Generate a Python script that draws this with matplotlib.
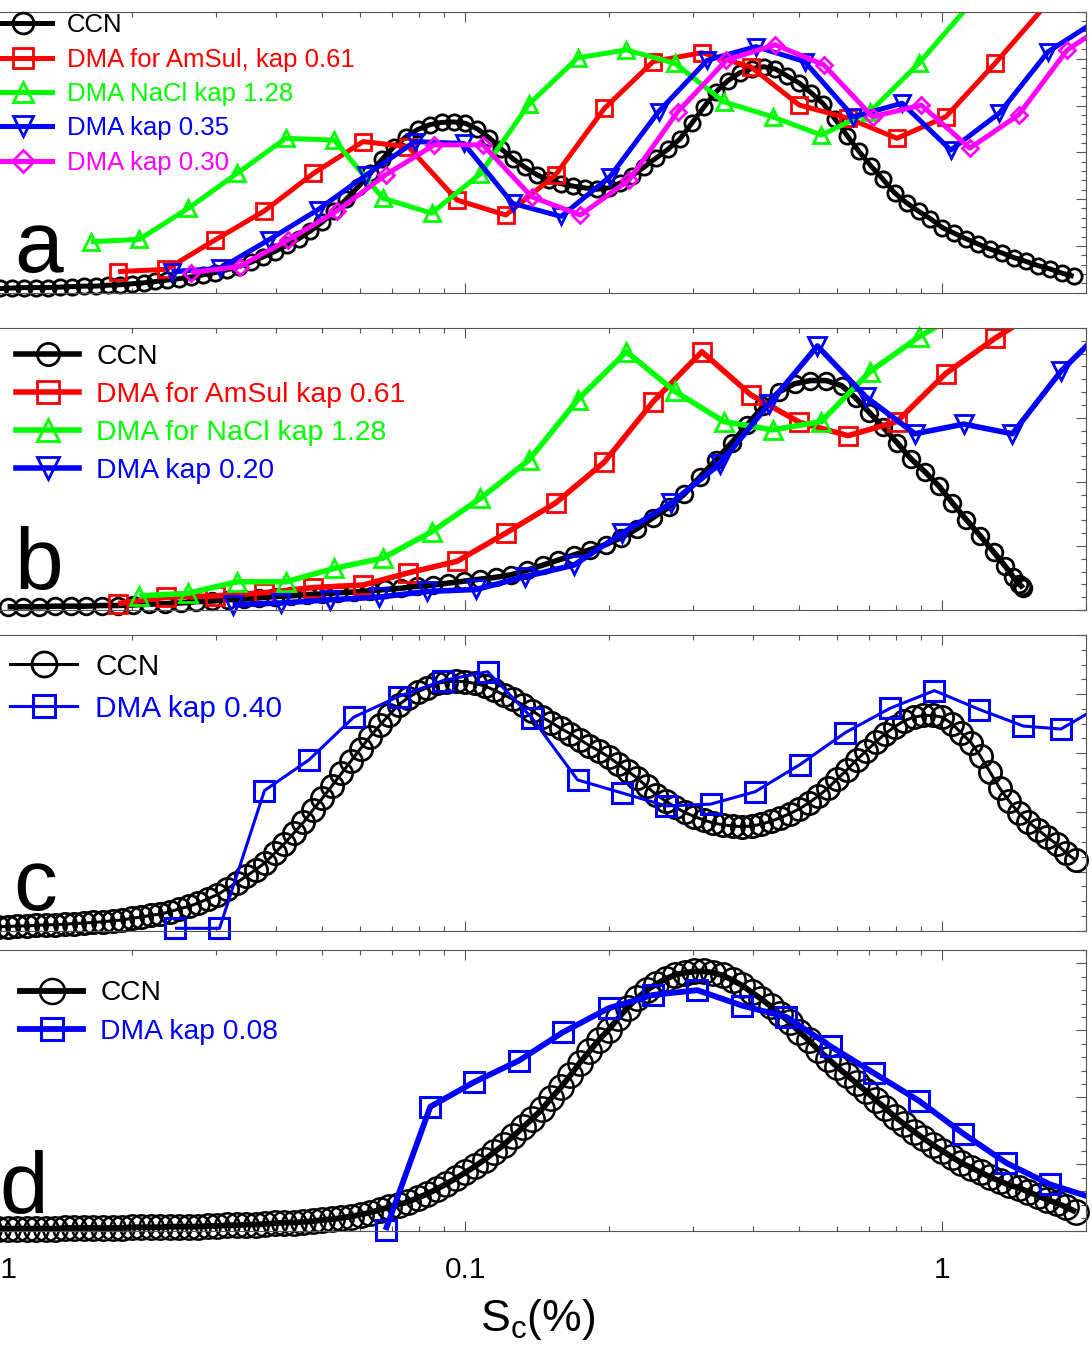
import numpy as np
import matplotlib
matplotlib.use('Agg')
import matplotlib.pyplot as plt
from matplotlib.lines import Line2D
from matplotlib.ticker import MultipleLocator, NullFormatter

plt.rcParams.update({'font.family': 'Liberation Sans',
                     'mathtext.fontset': 'custom',
                     'mathtext.rm': 'Liberation Sans',
                     'mathtext.it': 'Liberation Sans:italic'})

# -- data: Sc (%) and normalised number concentration --------------------------
# CCN curves are kept as log10(Sc)
ccn_a_log_sc = [-2.000, -1.975, -1.950, -1.925, -1.900, -1.875, -1.850, -1.825, -1.800, -1.775,
                -1.750, -1.725, -1.700, -1.675, -1.650, -1.625, -1.600, -1.575, -1.550, -1.525,
                -1.500, -1.475, -1.450, -1.425, -1.400, -1.375, -1.350, -1.325, -1.300, -1.275,
                -1.250, -1.225, -1.200, -1.175, -1.150, -1.125, -1.100, -1.075, -1.050, -1.025,
                -1.000, -0.975, -0.950, -0.925, -0.900, -0.875, -0.850, -0.825, -0.800, -0.775,
                -0.750, -0.725, -0.700, -0.675, -0.650, -0.625, -0.600, -0.575, -0.550, -0.525,
                -0.500, -0.475, -0.450, -0.425, -0.400, -0.375, -0.350, -0.325, -0.300, -0.275,
                -0.250, -0.225, -0.200, -0.175, -0.150, -0.125, -0.100, -0.075, -0.050, -0.025,
                0.000, 0.025, 0.050, 0.075, 0.100, 0.125, 0.150, 0.175, 0.200, 0.225,
                0.250, 0.275]
ccn_a_n = [0.09, 0.09, 0.10, 0.11, 0.11, 0.11, 0.12, 0.13, 0.14, 0.14,
           0.16, 0.17, 0.19, 0.21, 0.24, 0.27, 0.30, 0.34, 0.38, 0.43,
           0.49, 0.56, 0.65, 0.76, 0.88, 1.01, 1.15, 1.32, 1.51, 1.74,
           2.00, 2.26, 2.55, 2.85, 3.12, 3.33, 3.49, 3.59, 3.64, 3.65,
           3.62, 3.50, 3.31, 3.07, 2.86, 2.68, 2.52, 2.40, 2.33, 2.28,
           2.24, 2.21, 2.24, 2.35, 2.50, 2.69, 2.88, 3.07, 3.29, 3.63,
           3.97, 4.29, 4.53, 4.70, 4.79, 4.83, 4.78, 4.63, 4.48, 4.27,
           4.04, 3.71, 3.36, 3.02, 2.71, 2.43, 2.13, 1.92, 1.74, 1.58,
           1.39, 1.27, 1.15, 1.04, 0.93, 0.85, 0.75, 0.67, 0.58, 0.51,
           0.42, 0.35]

red_a_sc = [0.0187, 0.0236, 0.0299, 0.0379, 0.0480, 0.0610, 0.0759, 0.0960, 0.1215, 0.1545,
            0.1956, 0.2474, 0.3131, 0.3962, 0.5012, 0.634, 0.803, 1.016, 1.289, 1.632]
red_a_n = [0.45, 0.50, 1.13, 1.75, 2.55, 3.23, 3.12, 1.98, 1.66, 2.52,
           3.94, 4.94, 5.13, 4.83, 4.01, 3.73, 3.30, 3.76, 4.90, 6.10]
green_a_sc = [0.0164, 0.0207, 0.0262, 0.0332, 0.0420, 0.0531, 0.0671, 0.0849, 0.1074, 0.1359,
              0.1719, 0.2175, 0.2752, 0.3481, 0.4404, 0.557, 0.705, 0.892, 1.128]
green_a_n = [1.09, 1.14, 1.80, 2.55, 3.30, 3.26, 2.02, 1.70, 2.54, 4.03,
             5.02, 5.19, 4.90, 4.08, 3.76, 3.37, 3.87, 4.90, 6.10]
blue_a_sc = [0.0242, 0.0306, 0.0387, 0.0490, 0.0620, 0.0784, 0.0992, 0.1255, 0.1587, 0.2008,
             0.2540, 0.3213, 0.4064, 0.5142, 0.6506, 0.823, 1.041, 1.317, 1.665, 2.107]
blue_a_n = [0.45, 0.52, 1.13, 1.77, 2.52, 3.23, 3.19, 1.91, 1.63, 2.48,
            3.87, 4.97, 5.26, 4.94, 3.76, 4.05, 3.05, 3.84, 5.15, 5.82]
magenta_a_sc = [0.0266, 0.0336, 0.0425, 0.0538, 0.0680, 0.0860, 0.1088, 0.1377, 0.1741, 0.2203,
                0.2787, 0.3525, 0.4459, 0.5641, 0.7136, 0.903, 1.142, 1.444, 1.827, 2.312]
magenta_a_n = [0.43, 0.56, 1.13, 1.75, 2.52, 3.16, 3.16, 2.05, 1.66, 2.41,
               3.87, 4.97, 5.30, 4.87, 3.76, 4.01, 3.09, 3.80, 5.19, 5.88]

ccn_b_log_sc = [-1.960, -1.927, -1.894, -1.861, -1.828, -1.795, -1.762, -1.729, -1.696, -1.663,
                -1.630, -1.597, -1.564, -1.531, -1.498, -1.465, -1.432, -1.399, -1.366, -1.333,
                -1.300, -1.267, -1.234, -1.201, -1.168, -1.135, -1.102, -1.069, -1.036, -1.003,
                -0.970, -0.937, -0.904, -0.871, -0.838, -0.805, -0.772, -0.739, -0.706, -0.673,
                -0.640, -0.607, -0.574, -0.541, -0.508, -0.475, -0.442, -0.409, -0.376, -0.343,
                -0.310, -0.277, -0.244, -0.211,
                -0.182, -0.153, -0.124, -0.095, -0.066, -0.037, -0.008, 0.021, 0.050, 0.079, 0.108,
                0.131, 0.148, 0.160, 0.166, 0.169]
ccn_b_n = [0.05, 0.05, 0.05, 0.06, 0.06, 0.06, 0.07, 0.07, 0.08, 0.09,
           0.10, 0.11, 0.13, 0.14, 0.16, 0.17, 0.19, 0.21, 0.22, 0.24,
           0.25, 0.27, 0.28, 0.30, 0.32, 0.34, 0.37, 0.39, 0.42, 0.45,
           0.48, 0.51, 0.55, 0.62, 0.70, 0.78, 0.86, 0.94, 1.02, 1.13,
           1.27, 1.44, 1.60, 1.81, 2.08, 2.34, 2.61, 2.89, 3.18, 3.40,
           3.53, 3.58, 3.58, 3.50,
           3.31, 3.08, 2.85, 2.61, 2.36, 2.16, 1.94, 1.67, 1.41, 1.16, 0.90,
           0.69, 0.52, 0.41, 0.37, 0.34]

red_b_sc = [0.0187, 0.0236, 0.0299, 0.0379, 0.0480, 0.0610, 0.0759, 0.0960, 0.1215, 0.1545,
            0.1956, 0.2474, 0.3131, 0.3962, 0.5012, 0.634, 0.803, 1.016, 1.289, 1.632]
red_b_n = [0.10, 0.20, 0.22, 0.27, 0.35, 0.39, 0.58, 0.76, 1.20, 1.67,
           2.31, 3.25, 4.03, 3.36, 2.93, 2.72, 2.94, 3.69, 4.24, 4.72]
green_b_sc = [0.0207, 0.0262, 0.0332, 0.0420, 0.0531, 0.0671, 0.0849, 0.1074, 0.1359,
              0.1719, 0.2175, 0.2752, 0.3481, 0.4404, 0.557, 0.705, 0.892, 1.128]
green_b_n = [0.22, 0.26, 0.44, 0.44, 0.65, 0.81, 1.22, 1.74, 2.34,
             3.28, 4.03, 3.41, 2.94, 2.81, 2.94, 3.72, 4.26, 4.70]
blue_b_sc = [0.0325, 0.0411, 0.0520, 0.0658, 0.0832, 0.1053, 0.1332, 0.1687, 0.2134, 0.2700,
             0.3416, 0.4322, 0.5470, 0.6919, 0.8757, 1.108, 1.402, 1.774, 2.245]
blue_b_n = [0.08, 0.11, 0.16, 0.20, 0.29, 0.32, 0.52, 0.70, 1.20, 1.67,
            2.28, 3.21, 4.12, 3.32, 2.75, 2.90, 2.75, 3.73, 4.48]

ccn_cd_log_sc = [-2.00, -1.98, -1.96, -1.94, -1.92, -1.90, -1.88, -1.86, -1.84, -1.82,
                 -1.80, -1.78, -1.76, -1.74, -1.72, -1.70, -1.68, -1.66, -1.64, -1.62,
                 -1.60, -1.58, -1.56, -1.54, -1.52, -1.50, -1.48, -1.46, -1.44, -1.42,
                 -1.40, -1.38, -1.36, -1.34, -1.32, -1.30, -1.28, -1.26, -1.24, -1.22,
                 -1.20, -1.18, -1.16, -1.14, -1.12, -1.10, -1.08, -1.06, -1.04, -1.02,
                 -1.00, -0.98, -0.96, -0.94, -0.92, -0.90, -0.88, -0.86, -0.84, -0.82,
                 -0.80, -0.78, -0.76, -0.74, -0.72, -0.70, -0.68, -0.66, -0.64, -0.62,
                 -0.60, -0.58, -0.56, -0.54, -0.52, -0.50, -0.48, -0.46, -0.44, -0.42,
                 -0.40, -0.38, -0.36, -0.34, -0.32, -0.30, -0.28, -0.26, -0.24, -0.22,
                 -0.20, -0.18, -0.16, -0.14, -0.12, -0.10, -0.08, -0.06, -0.04, -0.02,
                 0.00, 0.02, 0.04, 0.06, 0.08, 0.10, 0.12, 0.14, 0.16, 0.18,
                 0.20, 0.22, 0.24, 0.26, 0.28]
ccn_c_n = [0.06, 0.07, 0.07, 0.08, 0.08, 0.09, 0.10, 0.10, 0.11, 0.12,
           0.13, 0.14, 0.15, 0.17, 0.18, 0.21, 0.23, 0.26, 0.28, 0.32,
           0.37, 0.41, 0.47, 0.54, 0.61, 0.71, 0.81, 0.92, 1.03, 1.15,
           1.31, 1.47, 1.65, 1.83, 2.04, 2.24, 2.45, 2.66, 2.87, 3.08,
           3.28, 3.47, 3.65, 3.82, 3.94, 4.04, 4.11, 4.18, 4.21, 4.22,
           4.21, 4.18, 4.14, 4.07, 3.99, 3.91, 3.82, 3.72, 3.61, 3.52,
           3.42, 3.33, 3.23, 3.13, 3.04, 2.94, 2.82, 2.70, 2.58, 2.44,
           2.30, 2.19, 2.09, 2.00, 1.93, 1.87, 1.82, 1.79, 1.77, 1.76,
           1.77, 1.80, 1.85, 1.91, 1.98, 2.06, 2.16, 2.28, 2.41, 2.57,
           2.72, 2.89, 3.04, 3.19, 3.33, 3.45, 3.55, 3.61, 3.64, 3.64,
           3.61, 3.50, 3.34, 3.18, 2.95, 2.68, 2.41, 2.19, 1.99, 1.84,
           1.71, 1.58, 1.46, 1.31, 1.19]
blue_c_sc = [0.0246, 0.0305, 0.0379, 0.0470, 0.0583, 0.0724, 0.0898, 0.1113, 0.1378, 0.1718,
             0.2128, 0.2637, 0.3265, 0.4049, 0.5029, 0.6259, 0.7763, 0.9621, 1.196, 1.479,
             1.772, 2.20]
blue_c_n = [0.04, 0.04, 2.37, 2.89, 3.61, 3.96, 4.23, 4.38, 3.60, 2.55,
            2.33, 2.11, 2.14, 2.35, 2.81, 3.35, 3.76, 4.06, 3.74, 3.46,
            3.41, 3.85]

ccn_d_n = [0.04, 0.04, 0.04, 0.04, 0.04, 0.04, 0.04, 0.04, 0.05, 0.05,
           0.05, 0.05, 0.05, 0.05, 0.05, 0.06, 0.06, 0.06, 0.06, 0.07,
           0.07, 0.07, 0.07, 0.08, 0.08, 0.09, 0.09, 0.10, 0.10, 0.11,
           0.12, 0.13, 0.13, 0.14, 0.15, 0.17, 0.18, 0.20, 0.22, 0.25,
           0.28, 0.32, 0.36, 0.40, 0.44, 0.50, 0.56, 0.63, 0.71, 0.79,
           0.88, 0.97, 1.07, 1.18, 1.29, 1.42, 1.55, 1.68, 1.82, 1.99,
           2.15, 2.33, 2.52, 2.69, 2.86, 3.01, 3.18, 3.34, 3.48, 3.60,
           3.69, 3.77, 3.83, 3.86, 3.88, 3.88, 3.86, 3.82, 3.75, 3.67,
           3.57, 3.47, 3.36, 3.24, 3.12, 2.98, 2.85, 2.71, 2.58, 2.45,
           2.33, 2.21, 2.09, 1.96, 1.84, 1.71, 1.60, 1.49, 1.39, 1.29,
           1.20, 1.11, 1.02, 0.95, 0.88, 0.81, 0.75, 0.69, 0.65, 0.59,
           0.53, 0.47, 0.42, 0.36, 0.29]
blue_d_sc = [0.0680, 0.0844, 0.1044, 0.1296, 0.1599, 0.1995, 0.2474, 0.3064, 0.3800, 0.4710,
             0.5832, 0.7194, 0.8924, 1.105, 1.362, 1.681, 2.084]
blue_d_n = [0.02, 1.86, 2.23, 2.55, 2.97, 3.33, 3.53, 3.60, 3.37, 3.20,
            2.76, 2.36, 1.95, 1.46, 1.02, 0.70, 0.49]

XMIN, XMAX = 0.01, 2.0
W, H = 1092, 1351
SPINE = '#555555'


def setup(ax, ymax, minor):
    ax.set_xscale('log')
    ax.set_xlim(XMIN, XMAX)
    ax.set_ylim(0, ymax)
    ax.yaxis.set_major_locator(MultipleLocator(1))
    ax.yaxis.set_minor_locator(MultipleLocator(minor))
    ax.xaxis.set_minor_formatter(NullFormatter())
    ax.set_xticks([0.01, 0.1, 1])
    ax.set_xticklabels(['0.01', '0.1', '1'])
    ax.tick_params(which='both', direction='in', top=True, right=True,
                   labelleft=False, labelbottom=False, color=SPINE, width=0.8)
    ax.tick_params(which='major', length=7)
    ax.tick_params(which='minor', length=3.5)
    for s in ax.spines.values():
        s.set_color(SPINE)
        s.set_linewidth(0.8)


def series(ax, sc, n, color, marker, ms, lw, mew, label, leg_ms):
    sc = np.asarray(sc, dtype=float)
    n = np.asarray(n, dtype=float)
    ax.plot(sc, n, '-', color=color, lw=lw, solid_capstyle='butt')
    lo, hi = ax.get_ylim()
    keep = (sc >= XMIN) & (sc <= XMAX) & (n >= lo) & (n <= hi)
    ax.plot(sc[keep], n[keep], ls='none', marker=marker, ms=ms, mfc='none',
            mec=color, mew=mew, clip_on=False)
    # the legend of the original shows bigger markers than the curves
    return Line2D([], [], color=color, lw=lw, marker=marker, ms=leg_ms,
                  mfc='none', mec=color, mew=mew, label=label)


def add_legend(ax, handles, fs, x0, y0, spacing):
    ax.legend(handles=handles, loc='upper left', bbox_to_anchor=(x0, y0),
              frameon=False, fontsize=fs, handlelength=2.25, handletextpad=0.6,
              labelspacing=spacing, borderpad=0, borderaxespad=0,
              labelcolor='linecolor', numpoints=1)


fig = plt.figure(figsize=(W / 100, H / 100), dpi=100)
left = -11.5 / W
width = 1097.5 / W


def panel(top_px, bot_px):
    return fig.add_axes([left, 1 - bot_px / H, width, (bot_px - top_px) / H])


ccn_a_sc = 10 ** np.array(ccn_a_log_sc)
ccn_b_sc = 10 ** np.array(ccn_b_log_sc)
ccn_cd_sc = 10 ** np.array(ccn_cd_log_sc)

# -- a -------------------------------------------------------------------------
ax = panel(12, 292.7)
setup(ax, 6, 0.2)
h = [series(ax, ccn_a_sc, ccn_a_n, 'k', 'o', 11, 3.6, 2.0, 'CCN', 15),
     series(ax, red_a_sc, red_a_n, '#ff0000', 's', 11, 3.6, 2.0, 'DMA for AmSul, kap 0.61', 14),
     series(ax, green_a_sc, green_a_n, '#00ff00', '^', 11.5, 3.6, 2.0, 'DMA NaCl kap 1.28', 15),
     series(ax, blue_a_sc, blue_a_n, '#0000ff', 'v', 11.5, 3.6, 2.0, 'DMA kap 0.35', 15),
     series(ax, magenta_a_sc, magenta_a_n, '#ff00ff', 'D', 8.5, 3.6, 2.0, 'DMA kap 0.30', 11)]
add_legend(ax, h, 18.5, 0.005, 0.995, 0.40)

# -- b -------------------------------------------------------------------------
ax = panel(328, 610)
setup(ax, 4.4, 0.2)
h = [series(ax, ccn_b_sc, ccn_b_n, 'k', 'o', 12, 4.0, 2.0, 'CCN', 16),
     series(ax, red_b_sc, red_b_n, '#ff0000', 's', 13.5, 4.0, 2.0, 'DMA for AmSul kap 0.61', 15.5),
     series(ax, green_b_sc, green_b_n, '#00ff00', '^', 13.5, 4.0, 2.0, 'DMA for NaCl kap 1.28', 16),
     series(ax, blue_b_sc, blue_b_n, '#0000ff', 'v', 13.5, 4.0, 2.0, 'DMA kap 0.20', 16)]
add_legend(ax, h, 20.4, 0.0248, 0.945, 0.43)

# -- c -------------------------------------------------------------------------
ax = panel(635, 930.7)
setup(ax, 5, 0.25)
h = [series(ax, ccn_cd_sc, ccn_c_n, 'k', 'o', 16, 2.2, 2.0, 'CCN', 18),
     series(ax, blue_c_sc, blue_c_n, '#0000ff', 's', 15, 2.2, 2.2, 'DMA kap 0.40', 16)]
add_legend(ax, h, 21.4, 0.020, 0.940, 0.47)

# -- d -------------------------------------------------------------------------
ax = panel(950, 1231.3)
setup(ax, 4.2, 0.2)
h = [series(ax, ccn_cd_sc, ccn_d_n, 'k', 'o', 17.5, 4.2, 1.8, 'CCN', 18),
     series(ax, blue_d_sc, blue_d_n, '#0000ff', 's', 15, 4.2, 2.2, 'DMA kap 0.08', 15.5)]
add_legend(ax, h, 20.3, 0.0287, 0.892, 0.45)
ax.tick_params(which='major', labelbottom=True, labelsize=21.5, pad=18, labelcolor='black')
ax.set_xlabel(r'S$_\mathrm{c}$(%)', fontsize=32, labelpad=9)

# panel letters
for letter, x_px, base_px in [('a', 14, 272), ('b', 14, 589), ('c', 13, 910), ('d', -1, 1213)]:
    fig.text(x_px / W, 1 - base_px / H, letter, fontsize=63, ha='left', va='baseline')

fig.savefig('out.png', dpi=100)
